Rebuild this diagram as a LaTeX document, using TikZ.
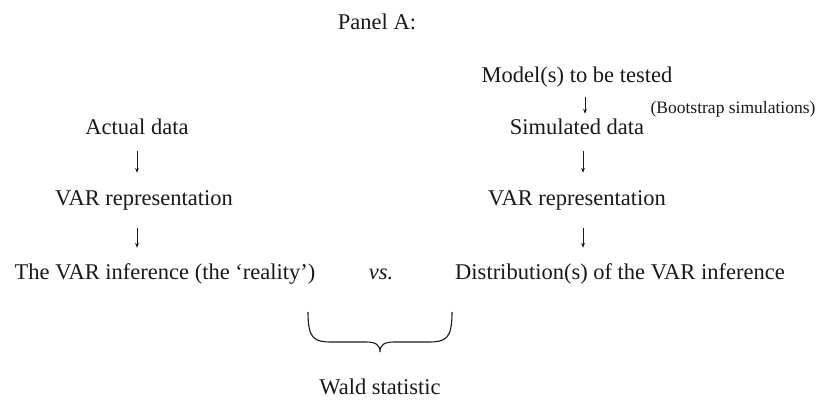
\documentclass[tikz,border=0pt]{standalone}
\usepackage{fontspec}
\setmainfont{Liberation Serif}
\usetikzlibrary{arrows.meta,positioning}
\definecolor{TxtCol}{RGB}{25,25,25}
\tikzset{
  ptxt/.style={font=\fontsize{22.5}{24}\selectfont, text=TxtCol, inner sep=0pt, text height=15pt, text depth=5pt},
  psmall/.style={font=\fontsize{17.5}{19}\selectfont, text=TxtCol, inner sep=0pt},
  dnarr/.style={-{Stealth[length=5pt,width=3.8pt]}, line width=0.75pt, draw=TxtCol},
  brc/.style={line width=1.1pt, draw=TxtCol}
}
\begin{document}
\begin{tikzpicture}[x=1pt,y=-1pt]
  \useasboundingbox (0,-3) rectangle (820,403);
  \node[ptxt] (panel) at (377,22) {Panel A:};
  \node[ptxt] (model) at (577,75) {Model(s) to be tested};
  \node[psmall] (boot) at (733,106) {(Bootstrap simulations)};
  \node[ptxt] (act) at (137,127) {Actual data};
  \node[ptxt] (sim) at (577,127) {Simulated data};
  \node[ptxt] (varl) at (144,198) {VAR representation};
  \node[ptxt] (varr) at (577,198) {VAR representation};
  \node[ptxt] (infl) at (165,272) {The VAR inference (the ‘reality’)};
  \node[ptxt] (vs) at (381,272) {\itshape vs.};
  \node[ptxt] (infr) at (620,272) {Distribution(s) of the VAR inference};
  \node[ptxt] (wald) at (380,386) {Wald statistic};
  % arrows
  \draw[dnarr,shorten <=9pt,shorten >=6pt] ([xshift=8pt]model.south) -- ([xshift=8pt]model.south |- sim.north);
  \draw[dnarr,shorten <=11pt,shorten >=18pt] (act.south) -- (act.south |- varl.north);
  \draw[dnarr,shorten <=11pt,shorten >=18pt] ([xshift=6pt]sim.south) -- ([xshift=6pt]sim.south |- varr.north);
  \draw[dnarr,shorten <=17pt,shorten >=17pt] (act.south |- varl.south) -- (act.south |- infl.north);
  \draw[dnarr,shorten <=17pt,shorten >=17pt] ([xshift=6pt]sim.south |- varr.south) -- ([xshift=6pt]sim.south |- infr.north);
  % brace
  \draw[brc] (308,309) .. controls (308,336) and (314,339) .. (332,339) -- (366,339)
    .. controls (376,339) and (380,342) .. (380,349)
    .. controls (380,342) and (384,339) .. (394,339) -- (428,339)
    .. controls (446,339) and (452,336) .. (452,309);
\end{tikzpicture}
\end{document}
